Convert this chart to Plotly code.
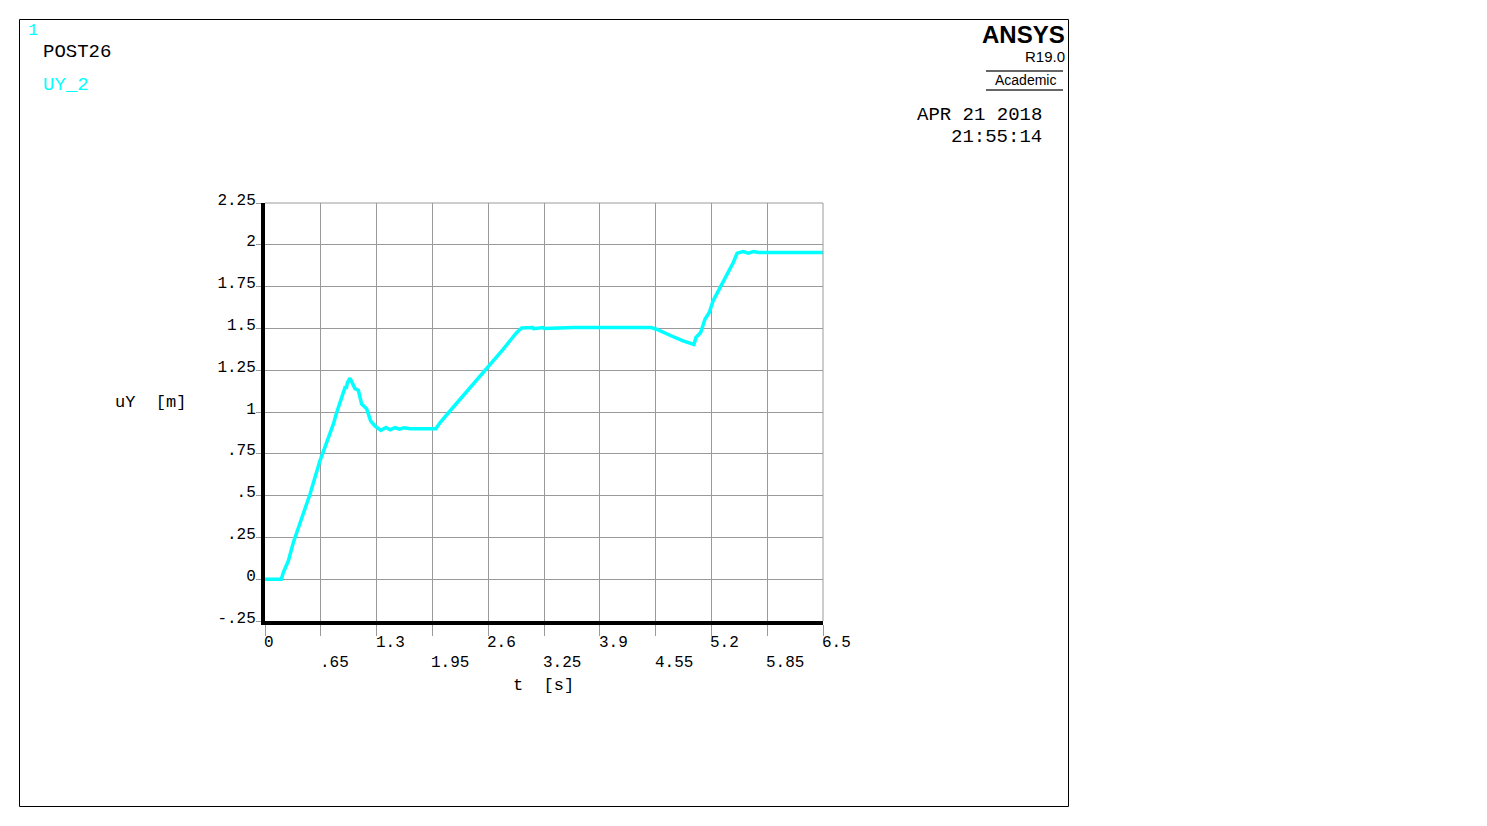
import plotly.graph_objects as go

# ---------------- data ----------------
t_s = [0.0, 0.19, 0.213, 0.272, 0.33, 0.408, 0.524, 0.64, 0.796, 0.835, 0.932, 0.95, 0.96, 0.99,
       1.01, 1.048, 1.087, 1.126, 1.184, 1.23, 1.28, 1.35, 1.41, 1.456, 1.514, 1.565, 1.62, 1.69,
       1.99, 2.04, 2.19, 2.39, 2.58, 2.776, 2.93, 2.99, 3.12, 3.13, 3.24, 3.25, 3.6, 4.0, 4.485,
       4.50, 4.56, 4.64, 4.756, 4.87, 4.997, 5.02, 5.075, 5.125, 5.175, 5.22, 5.30, 5.378, 5.455,
       5.50, 5.57, 5.63, 5.69, 5.75, 5.9, 6.2, 6.5]
uy_m = [0.0, 0.0, 0.04, 0.11, 0.22, 0.34, 0.508, 0.708, 0.927, 0.997, 1.146, 1.146, 1.176, 1.202,
        1.18, 1.14, 1.13, 1.047, 1.02, 0.947, 0.917, 0.89, 0.907, 0.893, 0.907, 0.897, 0.905, 0.90,
        0.90, 0.937, 1.027, 1.146, 1.252, 1.376, 1.475, 1.503, 1.505, 1.498, 1.505, 1.499, 1.505, 1.505, 1.505,
        1.505, 1.495, 1.475, 1.45, 1.425, 1.404, 1.446, 1.475, 1.555, 1.595, 1.665, 1.745, 1.814, 1.894,
        1.95, 1.96, 1.95, 1.96, 1.954, 1.954, 1.954, 1.954]

x_tick_vals = [0, 0.65, 1.3, 1.95, 2.6, 3.25, 3.9, 4.55, 5.2, 5.85, 6.5]
x_tick_text = ["0", ".65", "1.3", "1.95", "2.6", "3.25", "3.9", "4.55", "5.2", "5.85", "6.5"]
y_tick_vals = [-0.25, 0, 0.25, 0.5, 0.75, 1, 1.25, 1.5, 1.75, 2, 2.25]
y_tick_text = ["-.25", "0", ".25", ".5", ".75", "1", "1.25", "1.5", "1.75", "2", "2.25"]

# ---------------- layout geometry (pixels, page coordinates) ----------------
OFF = 8  # default body margin of the html page
W, H = 1487 - OFF, 826 - OFF
L, R, T, B = 265, 823, 203, 621
PW, PH = R - L, B - T


def px(x):
    return (x - L) / PW


def py(y):
    return (B - y) / PH


MONO = "Liberation Mono, Courier New, monospace"
SANS = "Liberation Sans, Arial, sans-serif"
CYAN = "#00FFFF"
GRID = "#9a9a9a"

fig = go.Figure()
fig.add_trace(go.Scatter(x=t_s, y=uy_m, mode="lines",
                         line=dict(color=CYAN, width=3.5), showlegend=False,
                         hoverinfo="x+y"))

fig.update_layout(
    width=W, height=H,
    margin=dict(l=L - OFF, r=W - (R - OFF), t=T - OFF, b=H - (B - OFF)),
    paper_bgcolor="white", plot_bgcolor="white",
    xaxis=dict(range=[0, 6.5], tickvals=x_tick_vals, showticklabels=False,
               showgrid=True, gridcolor=GRID, gridwidth=1,
               showline=True, linecolor="black", linewidth=4,
               ticks="outside", ticklen=11, tickcolor=GRID, tickwidth=1,
               zeroline=False, fixedrange=True),
    yaxis=dict(range=[-0.25, 2.25], tickvals=y_tick_vals, ticktext=y_tick_text,
               showgrid=True, gridcolor=GRID, gridwidth=1,
               showline=True, linecolor="black", linewidth=4,
               ticks="outside", ticklen=5, tickcolor=GRID, tickwidth=1,
               ticklabelstandoff=-3, ticklabelshift=-4,
               tickfont=dict(family=MONO, size=16, color="black"),
               zeroline=False, fixedrange=True),
)

shapes = [
    dict(type="line", xref="paper", yref="paper", x0=0, x1=1, y0=1, y1=1,
         line=dict(color=GRID, width=1)),
    dict(type="line", xref="paper", yref="paper", x0=1, x1=1, y0=0, y1=1,
         line=dict(color=GRID, width=1)),
    dict(type="rect", xref="paper", yref="paper", x0=px(19.5), x1=px(1068.5),
         y0=py(806.5), y1=py(19.5), line=dict(color="black", width=1)),
    dict(type="line", xref="paper", yref="paper", x0=px(986), x1=px(1063),
         y0=py(71), y1=py(71), line=dict(color="#666666", width=2)),
    dict(type="line", xref="paper", yref="paper", x0=px(986), x1=px(1063),
         y0=py(90), y1=py(90), line=dict(color="#666666", width=2)),
]
fig.update_layout(shapes=shapes)

ann = []
for i, (v, s) in enumerate(zip(x_tick_vals, x_tick_text)):
    ann.append(dict(x=v, xref="x", y=py(643 if i % 2 == 0 else 663), yref="paper",
                    text=s, showarrow=False, xanchor="left", yanchor="middle",
                    xshift=-3, font=dict(family=MONO, size=16, color="black")))


def txt(x, y, s, size, color="black", family=MONO, xanchor="left", bold=False):
    if bold:
        s = "<b>" + s + "</b>"
    ann.append(dict(x=px(x), y=py(y), xref="paper", yref="paper", text=s,
                    showarrow=False, xanchor=xanchor, yanchor="middle",
                    font=dict(family=family, size=size, color=color)))


txt(511, 685, "t  [s]", 17)
txt(113, 402, "uY  [m]", 17)
txt(26, 30, "1", 17, color=CYAN)
txt(41, 52, "POST26", 19)
txt(41, 85, "UY_2", 19, color=CYAN)
txt(1044, 115, "APR 21 2018", 19, xanchor="right")
txt(1044, 137, "21:55:14", 19, xanchor="right")
txt(1067, 35, "ANSYS", 24, family=SANS, xanchor="right", bold=True)
txt(1067, 56, "R19.0", 15, family=SANS, xanchor="right")
txt(1058, 80, "Academic", 14, family=SANS, xanchor="right")
fig.update_layout(annotations=ann)

fig.write_html("out.html")
